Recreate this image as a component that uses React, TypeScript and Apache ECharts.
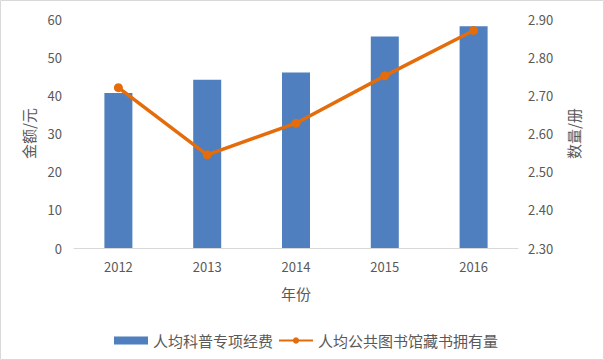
import React, { useEffect, useRef } from "react";
import * as echarts from "echarts";

const years = ["2012", "2013", "2014", "2015", "2016"];
const fundingPerCapita = [40.6, 44.1, 46.0, 55.4, 58.1];
const booksPerCapita = [2.72, 2.544, 2.627, 2.751, 2.87];
const barName = "人均科普专项经费";
const lineName = "人均公共图书馆藏书拥有量";

const font = '"Noto Sans CJK SC", "Noto Sans", sans-serif';
const grey = "#595959";

export default function App() {
  const ref = useRef<HTMLDivElement>(null);
  useEffect(() => {
    document.body.style.margin = "0";
    const chart = echarts.init(ref.current!, null, { renderer: "svg" });
    chart.setOption({
      animation: false,
      backgroundColor: "#ffffff",
      textStyle: { fontFamily: font },
      graphic: [
        {
          type: "rect",
          shape: { x: 0.5, y: 0.5, width: 603, height: 359 },
          style: { fill: "none", stroke: "#d9d9d9", lineWidth: 1 },
          silent: true,
        },
      ],
      grid: { left: 74, right: 86, top: 19, bottom: 112 },
      legend: {
        left: 109,
        top: 328,
        itemGap: 5,
        itemWidth: 34,
        itemHeight: 8,
        textStyle: { color: grey, fontSize: 15, fontFamily: font },
        data: [
          { name: barName, icon: "rect" },
          { name: lineName },
        ],
      },
      xAxis: {
        type: "category",
        data: years,
        name: "年份",
        nameLocation: "middle",
        nameGap: 38,
        nameTextStyle: { color: grey, fontSize: 15, fontFamily: font },
        axisLine: { lineStyle: { color: "#d9d9d9", width: 1 } },
        axisTick: { show: false },
        axisLabel: { color: grey, fontSize: 13, margin: 12, fontFamily: font },
      },
      yAxis: [
        {
          type: "value",
          min: 0,
          max: 60,
          interval: 10,
          name: "金额/元",
          nameLocation: "middle",
          nameRotate: 90,
          nameGap: 38,
          nameTextStyle: { color: grey, fontSize: 15, fontFamily: font },
          splitLine: { show: false },
          axisLine: { show: false },
          axisTick: { show: false },
          axisLabel: { color: grey, fontSize: 13, margin: 12, fontFamily: font },
        },
        {
          type: "value",
          min: 2.3,
          max: 2.9,
          interval: 0.1,
          position: "right",
          name: "数量/册",
          nameLocation: "middle",
          nameRotate: 90,
          nameGap: 48,
          nameTextStyle: { color: grey, fontSize: 15, fontFamily: font },
          splitLine: { show: false },
          axisLine: { show: false },
          axisTick: { show: false },
          axisLabel: {
            color: grey,
            fontSize: 13,
            margin: 10,
            fontFamily: font,
            formatter: (v: number) => v.toFixed(2),
          },
        },
      ],
      series: [
        {
          name: barName,
          type: "bar",
          data: fundingPerCapita,
          barWidth: 28,
          itemStyle: { color: "#4f7fbe" },
        },
        {
          name: lineName,
          type: "line",
          yAxisIndex: 1,
          data: booksPerCapita,
          symbol: "circle",
          symbolSize: 9,
          lineStyle: { color: "#e46c0a", width: 3.5 },
          itemStyle: { color: "#e46c0a" },
        },
      ],
    });
    return () => chart.dispose();
  }, []);
  return <div ref={ref} style={{ width: 604, height: 360 }} />;
}
